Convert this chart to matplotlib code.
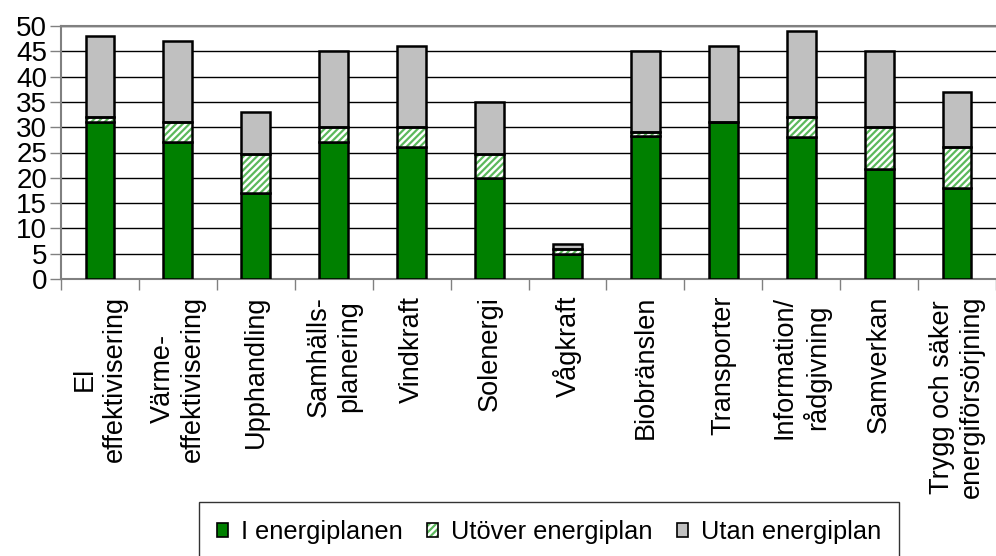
import matplotlib
matplotlib.use("Agg")
import matplotlib.pyplot as plt
import numpy as np
from matplotlib.patches import Patch
from matplotlib.legend_handler import HandlerTuple

plt.rcParams['font.family'] = ['Liberation Sans', 'DejaVu Sans']
plt.rcParams['hatch.linewidth'] = 1.6

categories = ["El\neffektivisering", "Värme-\neffektivisering", "Upphandling",
              "Samhälls-\nplanering", "Vindkraft", "Solenergi", "Vågkraft",
              "Biobränslen", "Transporter", "Information/\nrådgivning",
              "Samverkan", "Trygg och säker\nenergiförsörjning"]
i_energiplanen = [31, 27, 17, 27, 26, 20, 5, 28.3, 31, 28, 21.7, 18]
utover_energiplan = [1, 4, 7.7, 3, 4, 4.7, 1, 0.7, 0, 4, 8.3, 8]
utan_energiplan = [16, 16, 8.3, 15, 16, 10.3, 1, 16, 15, 17, 15, 11]
legend_labels = ["I energiplanen", "Utöver energiplan", "Utan energiplan"]
yticks = [0, 5, 10, 15, 20, 25, 30, 35, 40, 45, 50]

green = "#008000"
hatch_green = "#5cb85c"
gray = "#c0c0c0"

fig = plt.figure(figsize=(9.96, 5.56), dpi=100)
ax = fig.add_axes([61/996, 1 - 279/556, 1 - 61/996, (279 - 26)/556])

x = np.arange(len(categories))
w = 0.37
a = np.array(i_energiplanen)
b = np.array(utover_energiplan)
c = np.array(utan_energiplan)

ax.bar(x, a, w, color=green, edgecolor="black", linewidth=1.8, zorder=3)
ax.bar(x, b, w, bottom=a, color="white", edgecolor=hatch_green, hatch="/////",
       linewidth=0, zorder=3)
ax.bar(x, b, w, bottom=a, fill=False, edgecolor="black", linewidth=1.8, zorder=4)
ax.bar(x, c, w, bottom=a + b, color=gray, edgecolor="black", linewidth=1.8, zorder=3)

ax.set_xlim(-0.5, len(categories) - 0.5)
ax.set_ylim(0, 50)
ax.set_yticks(yticks)
ax.set_yticklabels([str(t) for t in yticks], fontsize=20)
ax.tick_params(axis='y', direction='out', length=8, width=1, color='#808080', pad=2)

ax.set_xticks(np.arange(len(categories) + 1) - 0.5)
ax.set_xticklabels([])
ax.tick_params(axis='x', which='major', direction='out', length=8, width=1, color='#808080')
ax.set_xticks(x, minor=True)
ax.set_xticklabels(categories, minor=True, rotation=90, fontsize=19.5,
                   ha='center', va='top', multialignment='center')
ax.tick_params(axis='x', which='minor', length=0, pad=12)

ax.yaxis.grid(True, color='black', linewidth=1, zorder=0)
ax.set_axisbelow(True)
ax.spines['right'].set_visible(False)
for s in ['top', 'left', 'bottom']:
    ax.spines[s].set_color('#808080')
    ax.spines[s].set_linewidth(1.5)

h1 = Patch(facecolor=green, edgecolor='black', linewidth=1.2)
h2 = (Patch(facecolor='white', edgecolor=hatch_green, hatch='/////', linewidth=0),
      Patch(fill=False, edgecolor='black', linewidth=1.2))
h3 = Patch(facecolor=gray, edgecolor='black', linewidth=1.2)
leg = fig.legend([h1, h2, h3], legend_labels, loc='upper left',
                 bbox_to_anchor=(199/996, 1 - 502/556), ncol=3, fontsize=18.3,
                 frameon=True, fancybox=False, edgecolor='black',
                 handlelength=0.45, handleheight=0.5, handletextpad=0.5,
                 columnspacing=0.95, borderpad=0.7, borderaxespad=0,
                 handler_map={tuple: HandlerTuple(ndivide=1, pad=0)})
leg.get_frame().set_linewidth(1)

fig.savefig("out.png", dpi=100)
